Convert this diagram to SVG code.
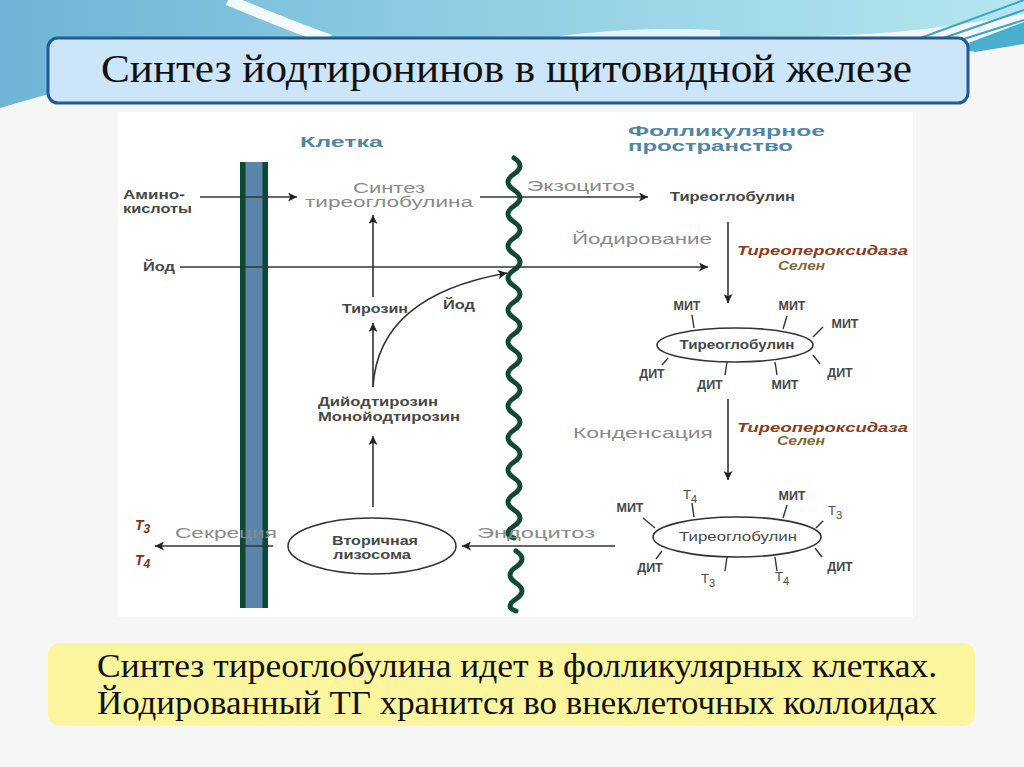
<svg xmlns="http://www.w3.org/2000/svg" width="1024" height="767" viewBox="0 0 1024 767">
<defs>
<linearGradient id="gTop" x1="0" y1="0" x2="1" y2="0">
<stop offset="0" stop-color="#6db4d6"/>
<stop offset="0.45" stop-color="#8fcde2"/>
<stop offset="1" stop-color="#b4e6ef"/>
</linearGradient>
<marker id="ah" viewBox="0 0 10 10" refX="10" refY="5" markerWidth="11" markerHeight="9" markerUnits="userSpaceOnUse" orient="auto">
<path d="M0,0 L10,5 L0,10 L2.5,5 z" fill="#222"/>
</marker>
<style>
.ln{stroke:#333;stroke-width:1.6;fill:none}
.arr{stroke:#333;stroke-width:1.6;fill:none;marker-end:url(#ah)}
.lb{font-family:"Liberation Sans",Arial,sans-serif;font-weight:bold;font-size:12.5px;fill:#474747}
.lt{font-family:"Liberation Sans",Arial,sans-serif;font-size:14px;fill:#8a8a8a}
.hd{font-family:"Liberation Sans",Arial,sans-serif;font-weight:bold;font-size:15px;fill:#4f86a6}
.enz{font-family:"Liberation Sans",Arial,sans-serif;font-weight:bold;font-style:italic;font-size:13px;fill:#8b3c1c}
.se{font-family:"Liberation Sans",Arial,sans-serif;font-style:italic;font-weight:bold;font-size:12.5px;fill:#7d6a32}
.tt{font-family:"Liberation Sans",Arial,sans-serif;font-size:13px;fill:#4a4a4a}
.th{font-family:"Liberation Sans",Arial,sans-serif;font-weight:bold;font-style:italic;font-size:14px;fill:#8b2a1a}
.tick{stroke:#333;stroke-width:1.4}
.ell{fill:#fff;stroke:#333;stroke-width:1.6}
.wave{fill:none;stroke:#0f4a32;stroke-width:5;stroke-linecap:round;stroke-linejoin:round}
.big{font-family:"Liberation Serif","Times New Roman",serif;fill:#111}
</style>
</defs>

<!-- background -->
<rect width="1024" height="767" fill="#f6f6f6"/>
<path d="M0,0 H1024 V14 C960,26 900,34 820,36 L330,40 C230,50 110,75 0,108 Z" fill="url(#gTop)"/>
<path d="M228,0 C262,14 296,28 330,40" stroke="#ffffff" stroke-width="11" fill="none" opacity="0.9"/>
<path d="M560,36 C620,28 680,28 720,30 L720,40 L560,40 Z" fill="#f4fafc" opacity="0.8"/>
<path d="M955,48 L1024,22 L1024,44 L975,52 Z" fill="#4aaed0"/>
<path d="M915,40 L1024,0 M932,42 L1024,10 M948,44 L1024,20" stroke="#39a5c8" stroke-width="2" fill="none"/>

<!-- title -->
<g id="title">
<rect x="48" y="38" width="920" height="65" rx="10" fill="#cde5f9" stroke="#1e5b96" stroke-width="3"/>
<text class="big" x="101" y="82" font-size="40" textLength="811" lengthAdjust="spacingAndGlyphs">Синтез йодтиронинов в щитовидной железе</text>
</g>

<!-- diagram panel -->
<rect x="118" y="112" width="795" height="505" fill="#ffffff"/>

<g id="headers">
<text class="hd" x="300" y="147" textLength="83" lengthAdjust="spacingAndGlyphs">Клетка</text>
<text class="hd" x="628" y="136" textLength="197" lengthAdjust="spacingAndGlyphs">Фолликулярное</text>
<text class="hd" x="628" y="151" textLength="165" lengthAdjust="spacingAndGlyphs">пространство</text>
</g>

<!-- membranes -->
<g id="membrane-basal">
<rect x="240" y="162" width="28" height="446" fill="#0e4a33"/>
<rect x="245.5" y="162" width="17" height="446" fill="#5b86ab"/>
</g>
<g id="membrane-apical">
<path class="wave" d="M514,158 q12,8 0,16 t0,16 t0,16 t0,16 t0,16 t0,16 t0,16 t0,16 t0,16 t0,16 t0,16 t0,16 t0,16 t0,16 t0,16 t0,16 t0,16 t0,16 t0,16 t0,16 t0,16 t0,16 t0,16 t0,12"/>
<path class="wave" d="M516,551 q12,8 0,16 t0,16 t0,16 t0,12"/>
</g>

<!-- connectors -->
<g id="connectors">
<line class="arr" x1="200" y1="197" x2="297" y2="197"/>
<line class="arr" x1="480" y1="197" x2="648" y2="197"/>
<line class="arr" x1="180" y1="267" x2="708" y2="267"/>
<line class="arr" x1="373" y1="297" x2="373" y2="215"/>
<line class="arr" x1="373" y1="387" x2="373" y2="323"/>
<path class="arr" d="M373,387 C376,335 410,290 507,273"/>
<line class="arr" x1="373" y1="507" x2="373" y2="436"/>
<line class="arr" x1="273" y1="546" x2="155" y2="546"/>
<line class="arr" x1="615" y1="546" x2="462" y2="546"/>
<line class="arr" x1="728" y1="222" x2="728" y2="303"/>
<line class="arr" x1="728" y1="399" x2="728" y2="480"/>
</g>

<!-- cell side labels -->
<g id="aminoacids">
<text class="lb" x="123" y="199" textLength="62" lengthAdjust="spacingAndGlyphs">Амино-</text>
<text class="lb" x="123" y="213" textLength="69" lengthAdjust="spacingAndGlyphs">кислоты</text>
</g>
<g id="iodine">
<text class="lb" x="143" y="271" textLength="32" lengthAdjust="spacingAndGlyphs">Йод</text>
</g>
<g id="tg-synthesis">
<text class="lt" x="389" y="193" text-anchor="middle" textLength="72" lengthAdjust="spacingAndGlyphs">Синтез</text>
<text class="lt" x="389" y="207" text-anchor="middle" textLength="168" lengthAdjust="spacingAndGlyphs">тиреоглобулина</text>
</g>
<g id="tyrosine">
<text class="lb" x="342" y="313" textLength="66" lengthAdjust="spacingAndGlyphs">Тирозин</text>
</g>
<g id="iodine-2">
<text class="lb" x="443" y="309" textLength="32" lengthAdjust="spacingAndGlyphs">Йод</text>
</g>
<g id="dit-mit">
<text class="lb" x="318" y="406" textLength="120" lengthAdjust="spacingAndGlyphs">Дийодтирозин</text>
<text class="lb" x="318" y="421" textLength="142" lengthAdjust="spacingAndGlyphs">Монойодтирозин</text>
</g>
<g id="lysosome">
<ellipse class="ell" cx="372" cy="546" rx="84" ry="28"/>
<text class="lb" x="375" y="545" text-anchor="middle" textLength="86" lengthAdjust="spacingAndGlyphs" fill="#555">Вторичная</text>
<text class="lb" x="372" y="559" text-anchor="middle" textLength="78" lengthAdjust="spacingAndGlyphs">лизосома</text>
</g>
<g id="secretion">
<text class="lt" x="175" y="538" textLength="102" lengthAdjust="spacingAndGlyphs">Секреция</text>
</g>
<g id="t3t4">
<text class="th" x="135" y="530">T<tspan font-size="12" dy="3">3</tspan></text>
<text class="th" x="135" y="565">T<tspan font-size="12" dy="3">4</tspan></text>
</g>
<g id="endocytosis">
<text class="lt" x="477" y="538" textLength="118" lengthAdjust="spacingAndGlyphs">Эндоцитоз</text>
</g>

<!-- follicular side -->
<g id="exocytosis">
<text class="lt" x="527" y="191" textLength="108" lengthAdjust="spacingAndGlyphs">Экзоцитоз</text>
</g>
<g id="thyroglobulin">
<text class="lb" x="670" y="201" textLength="125" lengthAdjust="spacingAndGlyphs">Тиреоглобулин</text>
</g>
<g id="iodination">
<text class="lt" x="572" y="244" textLength="140" lengthAdjust="spacingAndGlyphs">Йодирование</text>
<text class="enz" x="737" y="255" textLength="171" lengthAdjust="spacingAndGlyphs">Тиреопероксидаза</text>
<text class="se" x="778" y="270" textLength="47" lengthAdjust="spacingAndGlyphs">Селен</text>
</g>

<g id="tg-iodinated">
<ellipse class="ell" cx="735" cy="345" rx="78" ry="17"/>
<text class="lb" x="737" y="349" text-anchor="middle" textLength="115" lengthAdjust="spacingAndGlyphs">Тиреоглобулин</text>
<line class="tick" x1="692" y1="315" x2="694" y2="328"/>
<line class="tick" x1="787" y1="316" x2="783" y2="329"/>
<line class="tick" x1="823" y1="327" x2="813" y2="337"/>
<line class="tick" x1="668" y1="358" x2="662" y2="365"/>
<line class="tick" x1="727" y1="362" x2="725" y2="375"/>
<line class="tick" x1="775" y1="362" x2="777" y2="375"/>
<line class="tick" x1="813" y1="355" x2="820" y2="364"/>
<text class="lb" x="687" y="310" text-anchor="middle">МИТ</text>
<text class="lb" x="792" y="310" text-anchor="middle">МИТ</text>
<text class="lb" x="845" y="328" text-anchor="middle">МИТ</text>
<text class="lb" x="652" y="378" text-anchor="middle">ДИТ</text>
<text class="lb" x="710" y="389" text-anchor="middle">ДИТ</text>
<text class="lb" x="785" y="389" text-anchor="middle">МИТ</text>
<text class="lb" x="840" y="377" text-anchor="middle">ДИТ</text>
</g>

<g id="condensation">
<text class="lt" x="573" y="438" textLength="140" lengthAdjust="spacingAndGlyphs">Конденсация</text>
<text class="enz" x="737" y="432" textLength="171" lengthAdjust="spacingAndGlyphs">Тиреопероксидаза</text>
<text class="se" x="777" y="445" textLength="48" lengthAdjust="spacingAndGlyphs">Селен</text>
</g>

<g id="tg-hormones">
<ellipse class="ell" cx="737" cy="537" rx="84" ry="20"/>
<text class="tt" x="738" y="541" text-anchor="middle" textLength="118" lengthAdjust="spacingAndGlyphs">Тиреоглобулин</text>
<line class="tick" x1="643" y1="518" x2="655" y2="528"/>
<line class="tick" x1="692" y1="503" x2="694" y2="517"/>
<line class="tick" x1="787" y1="505" x2="783" y2="518"/>
<line class="tick" x1="823" y1="521" x2="816" y2="528"/>
<line class="tick" x1="662" y1="551" x2="656" y2="559"/>
<line class="tick" x1="727" y1="557" x2="725" y2="571"/>
<line class="tick" x1="775" y1="557" x2="777" y2="571"/>
<line class="tick" x1="815" y1="548" x2="822" y2="557"/>
<text class="lb" x="630" y="512" text-anchor="middle">МИТ</text>
<text class="tt" x="683" y="499">T<tspan font-size="11" dy="4">4</tspan></text>
<text class="lb" x="792" y="500" text-anchor="middle">МИТ</text>
<text class="tt" x="828" y="515">T<tspan font-size="11" dy="4">3</tspan></text>
<text class="lb" x="650" y="572" text-anchor="middle">ДИТ</text>
<text class="tt" x="701" y="583">T<tspan font-size="11" dy="4">3</tspan></text>
<text class="tt" x="775" y="581">T<tspan font-size="11" dy="4">4</tspan></text>
<text class="lb" x="840" y="571" text-anchor="middle">ДИТ</text>
</g>

<!-- bottom note -->
<g id="note">
<rect x="48" y="643" width="927" height="83" rx="12" fill="#fbf59d"/>
<text class="big" x="97" y="677" font-size="34" textLength="840" lengthAdjust="spacingAndGlyphs">Синтез тиреоглобулина идет в фолликулярных клетках.</text>
<text class="big" x="97" y="714" font-size="34" textLength="840" lengthAdjust="spacingAndGlyphs">Йодированный ТГ хранится во внеклеточных коллоидах</text>
</g>
</svg>
